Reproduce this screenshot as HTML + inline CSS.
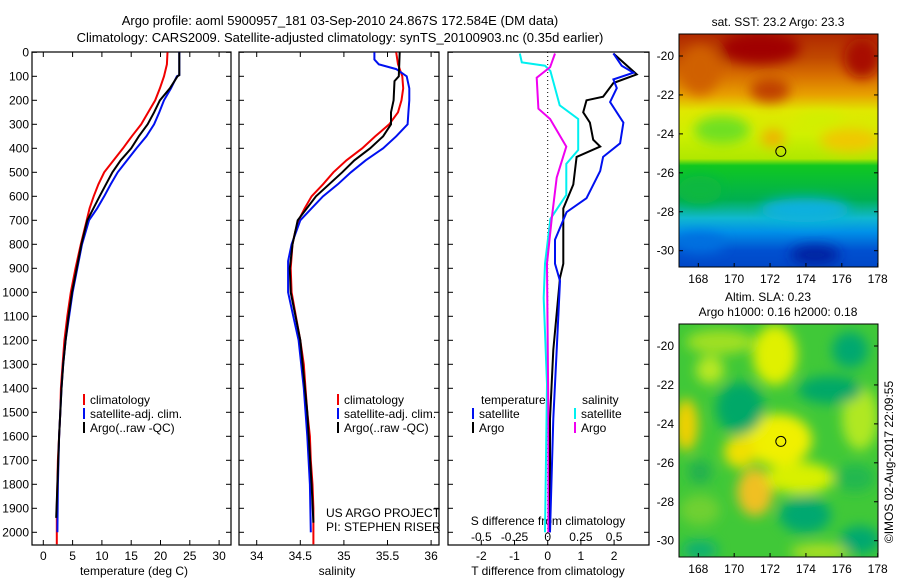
<!DOCTYPE html>
<html><head><meta charset="utf-8"><style>
html,body{margin:0;padding:0;background:#fff;}
svg{display:block;font-family:"Liberation Sans",sans-serif;}
</style></head><body>
<svg id="c" width="900" height="580" xmlns="http://www.w3.org/2000/svg">
<defs>
<linearGradient id="sstg" x1="0" y1="0" x2="0" y2="1">
<stop offset="0" stop-color="#b02800"/><stop offset="0.1" stop-color="#c04800"/>
<stop offset="0.18" stop-color="#d87000"/><stop offset="0.26" stop-color="#e8a000"/>
<stop offset="0.33" stop-color="#e0e800"/><stop offset="0.43" stop-color="#d0f000"/>
<stop offset="0.535" stop-color="#b0e800"/><stop offset="0.565" stop-color="#10c820"/>
<stop offset="0.71" stop-color="#00b050"/><stop offset="0.79" stop-color="#10b8d0"/>
<stop offset="0.85" stop-color="#0090e8"/><stop offset="0.93" stop-color="#0050d0"/>
<stop offset="1" stop-color="#0048c8"/>
</linearGradient>
<filter id="bl" x="-50%" y="-50%" width="200%" height="200%"><feGaussianBlur stdDeviation="6"/></filter>
<clipPath id="m1c"><rect x="679" y="34" width="199" height="233"/></clipPath>
<clipPath id="m2c"><rect x="679" y="324" width="199" height="233"/></clipPath>
</defs>
<g id="root"></g>
</svg>
<script>
// ---- data ----
const tDepthClim=[0,50,100,150,200,250,300,350,400,450,500,550,600,650,700,800,900,1000,1100,1200,1300,1400,1500,1600,1700,1800,1900,2000,2050];
const tClim=[21.2,21.1,20.6,19.9,19.1,17.9,16.7,15.1,13.6,12.0,10.4,9.4,8.6,7.9,7.4,6.4,5.5,4.7,4.1,3.6,3.3,3.0,2.9,2.7,2.5,2.4,2.3,2.3,2.3];
const tDepthSat=[0,95,100,150,200,250,300,350,400,450,500,550,600,650,700,800,900,1000,1100,1200,1300,1400,1500,1600,1800,2000];
const tSat=[23.2,23.2,22.8,21.8,20.6,19.8,18.9,17.6,15.9,14.3,12.7,11.5,10.4,9.2,7.8,6.6,5.8,5.0,4.4,3.8,3.4,3.1,2.9,2.7,2.5,2.4];
const tDepthArgo=[0,95,100,150,200,250,300,350,400,450,500,600,700,800,900,1000,1100,1200,1300,1400,1500,1600,1800,1940];
const tArgo=[23.2,23.2,22.9,21.6,19.9,18.9,17.8,16.3,15.0,13.2,11.8,9.6,7.5,6.5,5.7,4.9,4.3,3.8,3.4,3.1,2.9,2.7,2.4,2.2];

const sDepthClim=[0,50,100,150,200,250,300,350,400,450,500,550,600,650,700,750,800,900,1000,1100,1200,1300,1400,1500,1600,1700,1800,1900,2050];
const sClim=[35.6,35.62,35.67,35.68,35.66,35.62,35.52,35.36,35.21,35.03,34.88,34.76,34.63,34.55,34.48,34.44,34.41,34.39,34.4,34.45,34.5,34.54,34.56,34.58,34.61,34.62,34.64,34.65,34.65];
const sDepthSat=[0,30,50,70,100,150,200,250,300,350,400,450,500,550,600,650,700,800,870,1000,1100,1200,1400,1600,1800,2000];
const sSat=[35.35,35.35,35.4,35.6,35.72,35.75,35.75,35.74,35.73,35.6,35.45,35.25,35.08,34.93,34.76,34.63,34.5,34.4,34.36,34.36,34.42,34.48,34.54,34.58,34.61,34.62];
const sDepthArgo=[0,100,120,200,250,300,350,400,450,500,600,700,800,900,1000,1200,1500,1800,1960];
const sArgo=[35.64,35.63,35.58,35.57,35.54,35.54,35.45,35.3,35.12,34.98,34.68,34.47,34.41,34.38,34.39,34.5,34.58,34.63,34.65];

const dtDepthSat=[5,56,85,113,149,207,293,379,436,494,608,666,781,881,953,1240,1527,2000];
const dtSat=[1.98,2.23,2.58,1.98,2.08,1.88,2.28,2.18,1.67,1.58,1.17,0.57,0.22,0.22,0.37,0.27,0.17,0.07];
const dtDepthArgo=[5,92,128,185,200,250,293,364,393,436,551,651,881,939,1240,1527,2000];
const dtArgo=[1.98,2.68,1.98,1.67,1.17,1.07,1.27,1.37,1.58,0.87,0.77,0.47,0.47,0.37,0.17,0.07,0.07];
const dsDepthSat=[5,42,56,78,221,278,407,465,594,694,881,1024,1383,2000];
const dsSat=[-0.21,-0.195,-0.02,0.02,0.09,0.23,0.23,0.14,0.14,0.02,-0.02,-0.03,-0.005,-0.02];
const dsDepthArgo=[5,62,106,235,278,393,522,694,881,1527,2000];
const dsArgo=[0.055,0.018,-0.083,-0.07,0.018,0.14,0.068,0.03,-0.005,0.005,0.005];

const depthTicks=[0,100,200,300,400,500,600,700,800,900,1000,1100,1200,1300,1400,1500,1600,1700,1800,1900,2000];
const tempTicks=[0,5,10,15,20,25,30];
const salTicks=[34,34.5,35,35.5,36];
const salTickLabels=["34","34.5","35","35.5","36"];
const dtTicks=[-2,-1,0,1,2];
const dsTicks=[-0.5,-0.25,0,0.25,0.5];
const latTicks=[-20,-22,-24,-26,-28,-30];
const lonTicks=[168,170,172,174,176,178];

// ---- axes ----
const TOP=52,BOT=545;
const yD=d=>52.3+d*0.24;
const xT=t=>43.3+t*5.86;
const xS=s=>256.7+(s-34)*87.2;
const xDT=t=>547.7+t*33.2;
const xDS=s=>547.7+s*132.8;
const lonX=l=>698.3+(l-168)*17.94;
const lat1Y=l=>56+(-20-l)*19.47;
const lat2Y=l=>346+(-20-l)*19.47;

const NS="http://www.w3.org/2000/svg";
const root=document.getElementById('root');
function mk(tag,attrs,parent){const e=document.createElementNS(NS,tag);for(const k in attrs)e.setAttribute(k,attrs[k]);(parent||root).appendChild(e);return e;}
function txt(x,y,s,anchor,size,parent){const e=mk('text',{x:x,y:y,'text-anchor':anchor||'start','font-size':size||12,fill:'#000'},parent);e.textContent=s;return e;}

let e;
e=txt(340,25,"Argo profile: aoml 5900957_181 03-Sep-2010 24.867S 172.584E (DM data)","middle",13);


e=txt(340,42,"Climatology: CARS2009. Satellite-adjusted climatology: synTS_20100903.nc (0.35d earlier)","middle",13);



function panel(x0,x1,name){
  const g=mk('g',{});
  
  
  mk('rect',{x:x0,y:TOP,width:x1-x0,height:BOT-TOP,fill:'none',stroke:'#000','stroke-width':1.2},g);
  depthTicks.forEach(d=>{
    mk('line',{x1:x0,x2:x0+5,y1:yD(d),y2:yD(d),stroke:'#000'},g);
    mk('line',{x1:x1-5,x2:x1,y1:yD(d),y2:yD(d),stroke:'#000'},g);
  });
  return g;
}
function line(xs,ds,fx,color,name,parent){
  const pts=xs.map((v,i)=>fx(v).toFixed(1)+","+yD(ds[i]).toFixed(1)).join(" ");
  const p=mk('polyline',{points:pts,fill:'none',stroke:color,'stroke-width':2},parent);
  
  
}
function legend(x,y,color,label,parent){
  mk('rect',{x:x,y:y-10,width:2,height:11,fill:color},parent);
  txt(x+7,y,label,'start',12,parent);
}

// panel 1
const p1=panel(32,231,'temperature-panel');
depthTicks.forEach(d=>{txt(29,yD(d)+4,String(d),'end',12,p1);});
tempTicks.forEach(t=>{
  mk('line',{x1:xT(t),x2:xT(t),y1:BOT,y2:BOT-5,stroke:'#000'},p1);
  mk('line',{x1:xT(t),x2:xT(t),y1:TOP,y2:TOP+5,stroke:'#000'},p1);
  txt(xT(t),560,String(t),'middle',12,p1);
});
txt(134,575,"temperature (deg C)",'middle',12,p1);
line(tClim,tDepthClim,xT,'#f00000','temp-climatology-line',p1);
line(tSat,tDepthSat,xT,'#0010f0','temp-satellite-line',p1);
line(tArgo,tDepthArgo,xT,'#000','temp-argo-line',p1);
legend(83,404,'#f00000','climatology',p1);
legend(83,418,'#0010f0','satellite-adj. clim.',p1);
legend(83,432,'#000','Argo(..raw -QC)',p1);

// panel 2
const p2=panel(239,439,'salinity-panel');
salTicks.forEach((s,i)=>{
  mk('line',{x1:xS(s),x2:xS(s),y1:BOT,y2:BOT-5,stroke:'#000'},p2);
  mk('line',{x1:xS(s),x2:xS(s),y1:TOP,y2:TOP+5,stroke:'#000'},p2);
  txt(xS(s),560,salTickLabels[i],'middle',12,p2);
});
txt(337,575,"salinity",'middle',12,p2);
line(sClim,sDepthClim,xS,'#f00000','sal-climatology-line',p2);
line(sSat,sDepthSat,xS,'#0010f0','sal-satellite-line',p2);
line(sArgo,sDepthArgo,xS,'#000','sal-argo-line',p2);
legend(337,404,'#f00000','climatology',p2);
legend(337,418,'#0010f0','satellite-adj. clim.',p2);
legend(337,432,'#000','Argo(..raw -QC)',p2);
txt(326,517,"US ARGO PROJECT",'start',12,p2);
txt(326,531,"PI: STEPHEN RISER",'start',12,p2);

// panel 3
const p3=panel(448,649,'difference-panel');
mk('line',{x1:547.7,x2:547.7,y1:TOP,y2:BOT,stroke:'#000','stroke-dasharray':'1,3'},p3);
dtTicks.forEach(t=>{
  mk('line',{x1:xDT(t),x2:xDT(t),y1:BOT,y2:BOT-5,stroke:'#000'},p3);
  txt(xDT(t),560,String(t),'middle',12,p3);
});
dsTicks.forEach(s=>{txt(xDS(s),541,String(s),'middle',12,p3);});
txt(548,525,"S difference from climatology",'middle',12,p3);
txt(548,575,"T difference from climatology",'middle',12,p3);
line(dsSat,dsDepthSat,xDS,'#00f0f0','sal-diff-satellite-line',p3);
line(dsArgo,dsDepthArgo,xDS,'#f000f0','sal-diff-argo-line',p3);
line(dtArgo,dtDepthArgo,xDT,'#000','temp-diff-argo-line',p3);
line(dtSat,dtDepthSat,xDT,'#0010f0','temp-diff-satellite-line',p3);
txt(481,404,"temperature",'start',12,p3);
legend(472,418,'#0010f0','satellite',p3);
legend(472,432,'#000','Argo',p3);
txt(582,404,"salinity",'start',12,p3);
legend(574,418,'#00f0f0','satellite',p3);
legend(574,432,'#f000f0','Argo',p3);

// map 1
const m1=mk('g',{});


txt(778,26,"sat. SST: 23.2 Argo: 23.3",'middle',12,m1);
const m1i=mk('g',{'clip-path':'url(#m1c)'},m1);
mk('rect',{x:679,y:34,width:199,height:233,fill:'url(#sstg)'},m1i);
const b1=mk('g',{filter:'url(#bl)'},m1i);
[[760,48,40,16,'#a00000'],[862,58,18,20,'#a80800'],[700,70,20,25,'#d06000'],[770,90,20,12,'#c04000'],[722,130,28,14,'#70e020'],[773,138,12,9,'#f0b000'],[850,140,30,12,'#f0c800'],[820,120,25,8,'#d0f000'],[700,190,22,14,'#10b840'],[805,210,45,12,'#10b0e0'],[815,255,25,10,'#0020a0'],[700,243,25,10,'#0070e0']].forEach(b=>{
  mk('ellipse',{cx:b[0],cy:b[1],rx:b[2],ry:b[3],fill:b[4]},b1);});
mk('rect',{x:679,y:34,width:199,height:233,fill:'none',stroke:'#000'},m1);
mk('circle',{cx:lonX(172.6),cy:lat1Y(-24.9),r:5,fill:'none',stroke:'#000'},m1);
latTicks.forEach(l=>{txt(674,lat1Y(l)+4,String(l),'end',12,m1);mk('line',{x1:679,x2:683,y1:lat1Y(l),y2:lat1Y(l),stroke:'#000'},m1);mk('line',{x1:874,x2:878,y1:lat1Y(l),y2:lat1Y(l),stroke:'#000'},m1);});
lonTicks.forEach(l=>{txt(lonX(l),283,String(l),'middle',12,m1);mk('line',{x1:lonX(l),x2:lonX(l),y1:263,y2:267,stroke:'#000'},m1);});

// map 2
const m2=mk('g',{});


txt(768,301,"Altim. SLA: 0.23",'middle',12,m2);
txt(778,316,"Argo h1000: 0.16 h2000: 0.18",'middle',12,m2);
const m2i=mk('g',{'clip-path':'url(#m2c)'},m2);
mk('rect',{x:679,y:324,width:199,height:233,fill:'#40c838'},m2i);
const b2=mk('g',{filter:'url(#bl)'},m2i);
[[775,355,22,30,'#e0f000'],[778,440,34,26,'#f0f000'],[740,452,16,16,'#f0e000'],[755,492,18,24,'#f0c020'],[686,425,12,26,'#f0d000'],[800,478,34,16,'#d8f000'],[720,342,34,12,'#a0e020'],[860,418,18,32,'#b0e820'],[700,510,20,15,'#70d030'],[820,552,30,8,'#b0e020'],[710,370,14,14,'#b8e820'],
 [740,408,24,26,'#00a868'],[830,390,32,14,'#00a868'],[850,350,18,18,'#00a870'],[805,515,26,18,'#00a870'],[860,540,20,14,'#00a870'],[700,550,18,10,'#10b070'],[855,478,20,14,'#20b850'],[700,472,12,12,'#20b050']].forEach(b=>{
  mk('ellipse',{cx:b[0],cy:b[1],rx:b[2],ry:b[3],fill:b[4]},b2);});
mk('rect',{x:679,y:324,width:199,height:233,fill:'none',stroke:'#000'},m2);
mk('circle',{cx:lonX(172.6),cy:lat2Y(-24.9),r:5,fill:'none',stroke:'#000'},m2);
latTicks.forEach(l=>{txt(674,lat2Y(l)+4,String(l),'end',12,m2);mk('line',{x1:874,x2:878,y1:lat2Y(l),y2:lat2Y(l),stroke:'#000'},m2);});
lonTicks.forEach(l=>{txt(lonX(l),573,String(l),'middle',12,m2);mk('line',{x1:lonX(l),x2:lonX(l),y1:553,y2:557,stroke:'#000'},m2);});
e=txt(0,0,"©IMOS 02-Aug-2017 22:09:55",'middle',12);
e.setAttribute('transform','translate(893,462) rotate(-90)');


</script>
</body></html>
